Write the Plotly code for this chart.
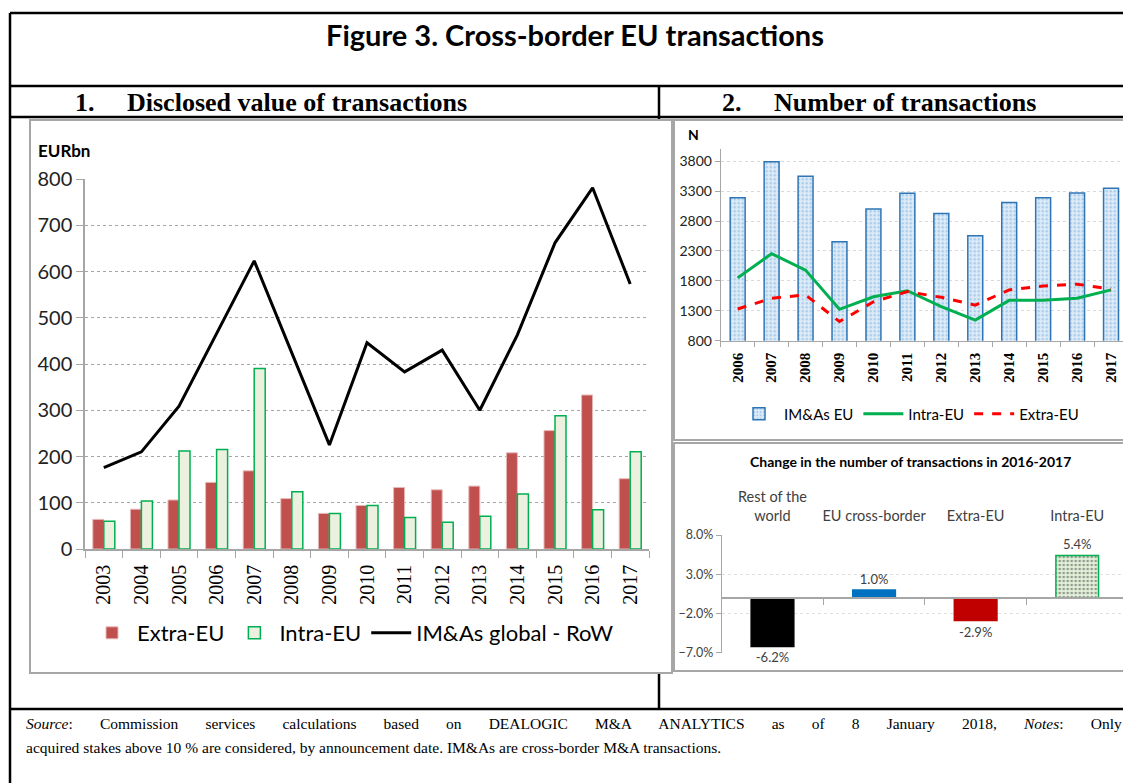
import plotly.graph_objects as go

W, H = 1131, 783
OFF = 8  # page body margin of the browser
def X(px): return (px - OFF) / W
def Y(py): return 1 - (py - OFF) / H

SANS = "Lato, Arial, sans-serif"
SERIF = "Liberation Serif, Times New Roman, serif"

# ---- Data: panel 1 (EUR bn)
years_val = [str(y) for y in range(2003, 2018)]
extra_eu_val = [64, 86, 106, 144, 169, 109, 77, 94, 133, 128, 136, 208, 256, 333, 152]
intra_eu_val = [60, 104, 212, 215, 390, 124, 77, 94, 68, 58, 71, 119, 288, 85, 210]
row_global_val = [176, 210, 309, 467, 623, 424, 225, 446, 383, 430, 300, 463, 662, 781, 573]

# ---- Data: panel 2 (number of transactions)
years_num = [str(y) for y in range(2006, 2018)]
imas_eu_num = [3190, 3790, 3550, 2455, 3000, 3265, 2925, 2555, 3110, 3190, 3270, 3350]
intra_eu_num = [1850, 2255, 1980, 1325, 1535, 1635, 1370, 1145, 1475, 1475, 1510, 1650]
extra_eu_num = [1330, 1510, 1565, 1120, 1450, 1620, 1525, 1395, 1650, 1715, 1745, 1665]

# ---- Data: change 2016-2017
change_cats = ["Rest of the<br>world", "EU cross-border", "Extra-EU", "Intra-EU"]
change_vals = [-6.2, 1.0, -2.9, 5.4]

fig = go.Figure()

# Panel 1
fig.add_trace(go.Bar(x=years_val, y=extra_eu_val, name="Extra-EU", xaxis="x", yaxis="y",
                     marker=dict(color="#C0504D", line=dict(color="#E6B9B8", width=1)),
                     legend="legend"))
fig.add_trace(go.Bar(x=years_val, y=intra_eu_val, name="Intra-EU", xaxis="x", yaxis="y",
                     marker=dict(color="#EBF1DE", line=dict(color="#00B050", width=1.5)),
                     legend="legend"))
fig.add_trace(go.Scatter(x=years_val, y=row_global_val, name="IM&As global - RoW", mode="lines",
                         xaxis="x", yaxis="y", line=dict(color="black", width=3),
                         legend="legend"))

# Panel 2
fig.add_trace(go.Bar(x=years_num, y=imas_eu_num, name="IM&As EU", xaxis="x2", yaxis="y2", width=0.44,
                     marker=dict(color="#DDEBF7", line=dict(color="#2E75B6", width=1.5),
                                 pattern=dict(shape=".", fgcolor="#6FA8DC", bgcolor="#DDEBF7",
                                              size=4, solidity=0.3)),
                     legend="legend2"))
fig.add_trace(go.Scatter(x=years_num, y=intra_eu_num, name="Intra-EU", mode="lines",
                         xaxis="x2", yaxis="y2", line=dict(color="#00B050", width=3),
                         legend="legend2"))
fig.add_trace(go.Scatter(x=years_num, y=extra_eu_num, name="Extra-EU", mode="lines",
                         xaxis="x2", yaxis="y2", line=dict(color="#FF0000", width=3, dash="dash"),
                         legend="legend2"))

# Panel 3
fig.add_trace(go.Bar(x=change_cats, y=change_vals, xaxis="x4", yaxis="y4", width=0.42,
                     showlegend=False,
                     marker=dict(color=["#000000", "#0070C0", "#C00000", "#E2F0D9"],
                                 line=dict(color=["#000000", "#0070C0", "#C00000", "#00B050"], width=1.5),
                                 pattern=dict(shape=["", "", "", "."], fgcolor="#7FCB9A",
                                              bgcolor="#EAF5EE", size=4, solidity=0.35)),
                     texttemplate="%{y:.1f}%", textposition="outside", cliponaxis=False,
                     textfont=dict(family=SANS, size=13, color="#404040")))
fig.add_trace(go.Scatter(x=list(range(len(change_cats))), y=[None] * len(change_cats),
                         xaxis="x5", yaxis="y4", showlegend=False, hoverinfo="skip", mode="markers"))

y4_dom = [Y(652.7), Y(535)]
y4_range = [-7, 8]
zero_pos = y4_dom[0] + (0 - y4_range[0]) / (y4_range[1] - y4_range[0]) * (y4_dom[1] - y4_dom[0])

GREY = "#A6A6A6"
fig.update_layout(
    width=W, height=H, margin=dict(l=0, r=0, t=0, b=0, autoexpand=False),
    paper_bgcolor="white", plot_bgcolor="rgba(0,0,0,0)",
    barmode="group", bargap=0.415, bargroupgap=0,
    font=dict(family=SANS, color="#000000"),
    xaxis=dict(domain=[X(85), X(649)], anchor="y", type="category", automargin=False,
               showline=True, linecolor=GREY, linewidth=1.5,
               ticks="outside", tickson="boundaries", ticklen=7, tickcolor=GREY,
               tickangle=-90, tickfont=dict(family=SERIF, size=20, color="black"),
               ticklabelstandoff=6, showgrid=False),
    yaxis=dict(domain=[Y(549), Y(179)], anchor="x", range=[0, 800], dtick=100, automargin=False,
               showgrid=True, gridcolor=GREY, griddash="dot", gridwidth=1,
               showline=True, linecolor=GREY, linewidth=1.5, ticks="outside", ticklen=7,
               tickcolor=GREY, tickfont=dict(family=SANS, size=20, color="#222222"), zeroline=False),
    xaxis2=dict(domain=[X(720.7), X(1128)], anchor="y2", type="category", automargin=False,
                showline=True, linecolor=GREY, linewidth=1,
                ticks="outside", tickson="boundaries", ticklen=5, tickcolor=GREY,
                tickangle=-90, tickfont=dict(family=SERIF, size=15, color="black", weight="bold"),
                ticklabelstandoff=5, showgrid=False),
    yaxis2=dict(domain=[Y(340.7), Y(149.3)], anchor="x2", range=[800, 4000], tick0=800, dtick=500,
                automargin=False,
                showgrid=True, gridcolor="#D9D9D9", griddash="dot",
                showline=True, linecolor=GREY, linewidth=1, ticks="outside", ticklen=5, tickcolor=GREY,
                tickfont=dict(family=SANS, size=14, color="#222222"), zeroline=False),
    xaxis4=dict(domain=[X(721.7), X(1128)], anchor="free", position=zero_pos, type="category",
                automargin=False,
                showline=True, linecolor=GREY, linewidth=1.5,
                ticks="outside", tickson="boundaries", ticklen=6, tickcolor=GREY,
                showticklabels=False, showgrid=False),
    xaxis5=dict(overlaying="x4", side="top", anchor="y4", range=[-0.5, len(change_cats) - 0.5],
                automargin=False,
                tickmode="array", tickvals=list(range(len(change_cats))), ticktext=change_cats,
                showline=False, showgrid=False, zeroline=False, ticks="",
                tickfont=dict(family=SANS, size=14.5, color="#404040"), ticklabelstandoff=10),
    yaxis4=dict(domain=y4_dom, anchor="x4", range=y4_range, tick0=-7, dtick=5, automargin=False,
                tickformat=".1f", ticksuffix="%",
                showgrid=True, gridcolor="#E0E0E0", griddash="dot",
                showline=True, linecolor=GREY, linewidth=1, ticks="outside", ticklen=5, tickcolor=GREY,
                tickfont=dict(family=SANS, size=12.5, color="#404040"), zeroline=False),
    legend=dict(orientation="h", x=X(87), y=Y(633), xanchor="left", yanchor="middle",
                font=dict(family=SANS, size=22, color="black"), bgcolor="rgba(0,0,0,0)",
                itemwidth=40, tracegroupgap=0, traceorder="normal"),
    legend2=dict(orientation="h", x=X(734), y=Y(414), xanchor="left", yanchor="middle",
                 font=dict(family=SANS, size=15, color="black"), bgcolor="rgba(0,0,0,0)",
                 itemwidth=40, traceorder="normal"),
)

shapes = []
def hline(x0, x1, y, color="black", w=2.5):
    shapes.append(dict(type="line", xref="paper", yref="paper", x0=X(x0), x1=X(x1), y0=Y(y), y1=Y(y),
                       line=dict(color=color, width=w), layer="below"))
def vline(x, y0, y1, color="black", w=2.5):
    shapes.append(dict(type="line", xref="paper", yref="paper", x0=X(x), x1=X(x), y0=Y(y0), y1=Y(y1),
                       line=dict(color=color, width=w), layer="below"))
def panel(x0, y0, x1, y1):
    shapes.append(dict(type="rect", xref="paper", yref="paper", x0=X(x0), x1=X(x1), y0=Y(y1), y1=Y(y0),
                       line=dict(color=GREY, width=2), fillcolor="white", layer="below"))

hline(10, 1150, 13)
hline(10, 1150, 86)
hline(10, 1150, 117)
hline(10, 1150, 709)
vline(10, 13, 800)
vline(659, 86, 709)
panel(30, 120, 672, 673)
panel(674, 120, 1150, 440)
panel(674, 443, 1150, 671)
fig.update_layout(shapes=shapes)

ann = []
def text(x, y, s, size, family=SANS, xanchor="center", color="black", bold=False):
    ann.append(dict(xref="paper", yref="paper", x=X(x), y=Y(y), text=s, showarrow=False,
                    xanchor=xanchor, yanchor="middle", align="left",
                    font=dict(family=family, size=size, color=color, weight="bold" if bold else "normal")))

NB = "&nbsp;"
text(575, 34, "Figure 3. Cross-border EU transactions", 29, bold=True)
text(73, 102, "1." + NB * 5 + "Disclosed value of transactions", 26, family=SERIF, xanchor="left", bold=True)
text(720, 102, "2." + NB * 5 + "Number of transactions", 26, family=SERIF, xanchor="left", bold=True)
text(36, 150, "EURbn", 17, xanchor="left", bold=True)
text(693, 134, "N", 14, bold=True)
text(910, 461, "Change in the number of transactions in 2016-2017", 14, bold=True)

line1_words = ["<i>Source</i>:", "Commission", "services", "calculations", "based", "on", "DEALOGIC",
               "M&A", "ANALYTICS", "as", "of", "8", "January", "2018,", "<i>Notes</i>:", "Only"]
gap = " " + NB * 6
text(24, 723, gap.join(line1_words), 15.5, family=SERIF, xanchor="left")
text(24, 747, "acquired stakes above 10 % are considered, by announcement date. IM&As are cross-border M&A transactions.",
     15.5, family=SERIF, xanchor="left")
fig.update_layout(annotations=ann)

fig.write_html("out.html")
